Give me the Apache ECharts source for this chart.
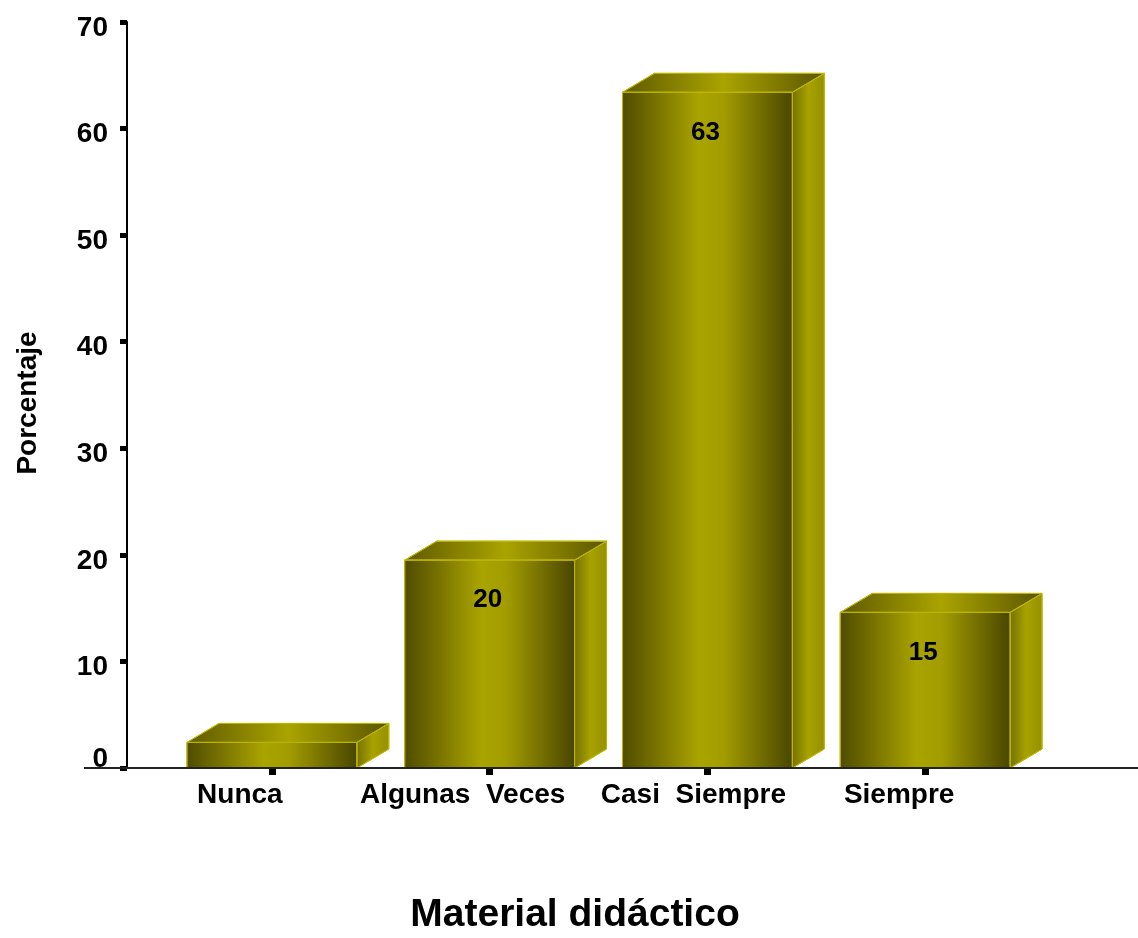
<!DOCTYPE html>
<html><head><meta charset="utf-8">
<script src="https://cdn.jsdelivr.net/npm/echarts@6/dist/echarts.min.js"></script>
<style>html,body{margin:0;padding:0;background:#fff}#c{width:1138px;height:938px}</style>
</head><body><div id="c"></div>
<script>
const categories = ['Nunca', 'Algunas  Veces', 'Casi  Siempre', 'Siempre'];
const values = [2.4, 19.5, 63.4, 14.6];
const valueLabels = ['', '20', '63', '15'];
const yTicks = [0, 10, 20, 30, 40, 50, 60, 70];

const FONT = '"Liberation Sans", Arial, sans-serif';
const chart = echarts.init(document.getElementById('c'));
const G = echarts.graphic;

// label shifts (padding-right, px) to reproduce the off-centre category labels
const labelPad = [64, 54, 28, 52];

function renderItem(params, api) {
  const i = api.value(0), v = api.value(1);
  const top = api.coord([i, v]);
  const base = api.coord([i, 0]);
  const bw = api.size([1, 0])[0] * 0.78;
  const x0 = top[0] - bw / 2, x1 = top[0] + bw / 2, yt = top[1], yb = base[1];
  const dx = 32, dy = 19;
  const stroke = '#bdb500';
  const frontFill = new G.LinearGradient(0, 0, 1, 0, [
    {offset: 0, color: '#504b00'}, {offset: 0.45, color: '#aaa400'},
    {offset: 0.6, color: '#a29c00'}, {offset: 1, color: '#494500'}]);
  const topFill = new G.LinearGradient(0, 0, 1, 0, [
    {offset: 0, color: '#5e5900'}, {offset: 0.5, color: '#aaa400'}, {offset: 1, color: '#5a5500'}]);
  const sideFill = new G.LinearGradient(0, 0, 1, 0, [
    {offset: 0, color: '#747000'}, {offset: 0.5, color: '#a8a200'}, {offset: 1, color: '#949000'}]);
  const children = [
    {type: 'polygon', shape: {points: [[x1, yt], [x1 + dx, yt - dy], [x1 + dx, yb - dy], [x1, yb]]},
     style: {fill: sideFill, stroke: stroke, lineWidth: 1}},
    {type: 'polygon', shape: {points: [[x0, yt], [x0 + dx, yt - dy], [x1 + dx, yt - dy], [x1, yt]]},
     style: {fill: topFill, stroke: stroke, lineWidth: 1}},
    {type: 'rect', shape: {x: x0, y: yt, width: bw, height: yb - yt},
     style: {fill: frontFill, stroke: stroke, lineWidth: 1}}
  ];
  const lab = valueLabels[params.dataIndex];
  if (lab) {
    children.push({type: 'text', x: top[0] - 2, y: yt + 40,
      style: {text: lab, fill: '#000', font: 'bold 26px ' + FONT, align: 'center', verticalAlign: 'middle'}});
  }
  return {type: 'group', children: children};
}

const tickRich = {
  n: {fontFamily: FONT, fontWeight: 'bold', fontSize: 28, color: '#000', padding: [12, 0, 0, 0]},
  z: {fontFamily: FONT, fontWeight: 'bold', fontSize: 28, color: '#000', padding: [0, 0, 18, 0]}
};

chart.setOption({
  animation: false,
  grid: {left: 163, right: 104, top: 22, bottom: 170},
  title: {text: 'Material didáctico', left: 570, top: 891, textAlign: 'center',
    textStyle: {fontFamily: FONT, fontWeight: 'bold', fontSize: 39, color: '#000'}},
  xAxis: {
    type: 'category',
    data: categories.map(function (c, i) {
      return {value: c, textStyle: {padding: [0, labelPad[i], 0, 0]}};
    }),
    axisLine: {show: false},
    axisTick: {show: true, interval: 0, alignWithLabel: true, length: 7, lineStyle: {color: '#000', width: 7}},
    axisLabel: {interval: 0, hideOverlap: false, margin: 13, color: '#000',
      fontFamily: FONT, fontWeight: 'bold', fontSize: 28}
  },
  yAxis: {
    type: 'value', min: 0, max: 70, interval: 10, offset: 36,
    name: 'Porcentaje', nameLocation: 'middle', nameGap: 85,
    nameTextStyle: {fontFamily: FONT, fontWeight: 'bold', fontSize: 28, color: '#000', padding: [0, 16, 0, 0]},
    axisLine: {show: true, lineStyle: {color: '#000', width: 2}},
    axisTick: {show: true, length: 7, lineStyle: {color: '#000', width: 5}},
    axisLabel: {margin: 19, rich: tickRich,
      formatter: function (v) {
        if (yTicks.indexOf(v) < 0) return '';
        return v === 0 ? '{z|0}' : '{n|' + v + '}';
      }},
    splitLine: {show: false}
  },
  series: [{
    type: 'custom', renderItem: renderItem, clip: false,
    data: values.map(function (v, i) { return [i, v]; })
  }]
});

const y0 = chart.convertToPixel({yAxisIndex: 0}, 0);
chart.setOption({
  graphic: [{type: 'line', z: 100, shape: {x1: 84, y1: y0, x2: 1138, y2: y0},
    style: {stroke: '#222', lineWidth: 2}}]
});
</script></body></html>
